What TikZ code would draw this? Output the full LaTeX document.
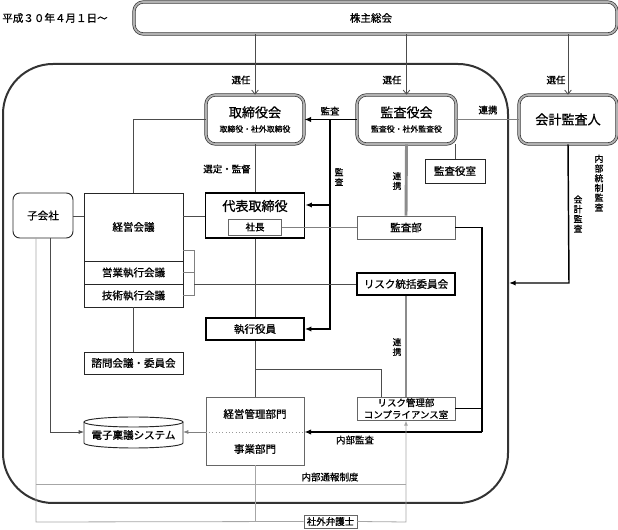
\documentclass[tikz,border=0pt]{standalone}
\usepackage{fontspec}
\setmainfont{Noto Sans CJK JP}[AutoFakeBold=0.9]
\usetikzlibrary{arrows.meta}
\newlength\px \setlength\px{0.75pt}
\tikzset{
  dbox/.style={draw=black!80, double=black!30, double distance=1.4pt, line width=0.5pt, rounded corners=7pt, fill=white, inner sep=0pt, align=center},
  box/.style={draw=black!85, line width=0.7pt, fill=white, inner sep=0pt},
  tbox/.style={draw=black, line width=1.2pt, fill=white, inner sep=0pt},
  gbox/.style={draw=black!60, line width=0.6pt, fill=white, inner sep=0pt},
  dk/.style={draw=black!70, line width=0.6pt},
  gr/.style={draw=black!50, line width=0.6pt},
  lg/.style={draw=black!35, line width=0.6pt},
  thk/.style={draw=black, line width=1.1pt},
  tg/.style={draw=black!45, line width=2.2pt},
  fa/.style={-{Latex[length=5pt,width=4pt]}},
  sa/.style={-{Latex[length=4pt,width=3pt]}},
  oa/.style={-{Straight Barb[length=3pt,width=5pt]}},
  fbig/.style={font=\fontsize{9.8}{11}\selectfont\bfseries},
  fmid/.style={font=\fontsize{7.9}{9}\selectfont\bfseries},
  fsm/.style={font=\fontsize{7.1}{8.5}\selectfont\bfseries},
  fvt/.style={font=\fontsize{6.6}{7.3}\selectfont\bfseries, align=center, inner sep=0pt},
}
\begin{document}
\begin{tikzpicture}[x=0.75pt,y=-0.75pt]
\useasboundingbox (0,0) rectangle (618,530);
% big frame
\draw[draw=black!80, line width=1.5pt, rounded corners=50\px] (3,64) rectangle (508,503);

\node[fmid] (date) at (55,18) {平成３０年４月１日～};
\node[dbox, minimum width=483\px, minimum height=32\px] (gm) at (375.5,18) {};
\node[fmid] (gmt) at (371,18) {株主総会};

\node[dbox, minimum width=98\px, minimum height=49\px] (tor) at (255,119.5)
  {{\fontsize{9.8}{12}\selectfont\bfseries 取締役会}\\[-1pt]{\fontsize{5.9}{7}\selectfont\bfseries 取締役・社外取締役}};
\node[dbox, minimum width=99\px, minimum height=49\px] (kyk) at (406.5,119.5)
  {{\fontsize{9.8}{12}\selectfont\bfseries 監査役会}\\[-1pt]{\fontsize{5.9}{7}\selectfont\bfseries 監査役・社外監査役}};
\node[dbox, minimum width=98\px, minimum height=49\px, fbig] (kai) at (568,119.5) {会計監査人};

\node[tbox, minimum width=99\px, minimum height=45\px] (dai) at (255,215.5) {};
\node[fbig] (dait) at (255,206) {代表取締役};
\node[gbox, minimum width=53\px, minimum height=16\px, fsm] (sha) at (255,227) {社長};

\node[box, minimum width=60\px, minimum height=24\px, fmid] (kys) at (455,171) {監査役室};
\node[gbox, minimum width=98\px, minimum height=23\px, fmid] (kb) at (406,227.5) {監査部};
\node[tbox, minimum width=98\px, minimum height=22\px, fmid] (rc) at (406,284) {リスク統括委員会};

\node[box, minimum width=60\px, minimum height=45\px, rounded corners=5pt, fmid] (ko) at (43,215.5) {子会社};
\node[box, minimum width=99\px, minimum height=68\px, fmid] (kk) at (133.5,227) {経営会議};
\node[box, minimum width=99\px, minimum height=23\px, fmid] (ek) at (133.5,272.5) {営業執行会議};
\node[box, minimum width=99\px, minimum height=23\px, fmid] (gk) at (133.5,295.5) {技術執行会議};
\node[box, minimum width=99\px, minimum height=22\px, fmid] (sm) at (133.5,363) {諮問会議・委員会};

\node[tbox, minimum width=98\px, minimum height=22\px, fmid] (sy) at (255,329) {執行役員};
\node[gbox, minimum width=98\px, minimum height=68\px] (bm) at (255,431) {};
\node[fmid] (bm1) at (255,414) {経営管理部門};
\node[fmid] (bm2) at (255,449) {事業部門};
\draw[black!40, dotted, line width=0.5pt] (bm.west |- 0,432) -- (bm.east |- 0,432);
\node[gbox, minimum width=98\px, minimum height=23\px, align=center, font=\fontsize{7.1}{9}\selectfont\bfseries] (rk) at (406,408.5) {リスク管理部\\コンプライアンス室};

% cylinder
\draw[box] (84,422) -- (84,443) arc[start angle=180, end angle=360, x radius=49.5\px, y radius=5\px] -- (183,422);
\draw[box] (133.5,422) ellipse[x radius=49.5\px, y radius=5\px];
\node[minimum width=99\px, minimum height=31\px, inner sep=0pt, fmid] (ds) at (133.5,435) {電子稟議システム};

\node[gbox, minimum width=53\px, minimum height=13\px, fsm] (bg) at (330.5,521.5) {社外弁護士};

% 選任
\draw[dk,oa] (tor.north |- gm.south) -- (tor.north);
\draw[dk,oa] (kyk.north |- gm.south) -- (kyk.north);
\draw[dk,oa] (kai.north |- gm.south) -- (kai.north);
\node[fsm] (s1) at (241,80) {選任};
\node[fsm] (s2) at (392,80) {選任};
\node[fsm] (s3) at (556,80) {選任};

% 監査
\draw[thk,fa] (kyk.west) -- (tor.east);
\node[fsm] (k1) at (330,111) {監査};
\coordinate (kv) at (330,119.5);
\coordinate (kd) at (330,205);
\draw[thk,fa] (kv) |- (sy.east);
\draw[thk,fa] (kd) -- (dai.east |- kd);
\node[fvt] (k2) at (339,177) {監\\査};

% 連携
\draw[gr] (kyk.east) -- (kai.west);
\node[fsm] (r1) at (488,110) {連携};
\draw[tg] (kyk.south) -- (kb.north);
\node[fvt] (r2) at (397,181) {連\\携};
\draw[dk] (kyk.south -| kys) -- (kys.north);

% 取締役会 → 経営会議
\draw[dk] (tor.west) -| (kk.north);
\draw[dk] (tor.south) -- (dai.north);
\node[fsm] (sk) at (227,169) {選定・監督};

\draw[gr] (sha.east) -- (sha.east -| kb.west);
\draw[dk] (ko.east |- 0,216) -- (kk.west |- 0,216);
\draw[dk] (kk.east |- 0,216) -- (dai.west |- 0,216);

% bracket
\coordinate (b1) at (183,250);
\coordinate (b2) at (194,250);
\coordinate (b3) at (194,295.5);
\coordinate (b4) at (183,295.5);
\coordinate (b5) at (183,272.5);
\coordinate (b6) at (194,272.5);
\coordinate (b7) at (194,284);
\draw[gr] (b1) -- (b2) -- (b3) -- (b4);
\draw[gr] (b5) -- (b6);
\draw[dk] (b7) -- (rc.west);

\draw[tg] (rc.south) -- (rk.north);
\node[fvt] (r3) at (397,347) {連\\携};

\draw[dk] (dai.south) -- (sy.north);
\draw[dk] (sy.south) -- (bm.north);
\coordinate (br) at (255,369);
\draw[dk] (br) -| (381,397);
\draw[dk] (gk.south) -- (sm.north);

% 内部監査
\coordinate (n1) at (482,227.5);
\coordinate (n2) at (482,432);
\draw[thk] (kb.east) -- (n1) -- (n2);
\draw[thk,fa] (n2) -- (bm.east |- n2);
\draw[thk] (rk.east) -- (rk.east -| n1);
\node[fsm] (nk) at (355,440) {内部監査};

% 会計監査
\coordinate (a1) at (569,283);
\coordinate (a2) at (509,283);
\draw[thk,fa] (kai.south) -- (a1) -- (a2);
\node[fvt] (a3) at (578,214) {会\\計\\監\\査};
\node[fvt] (a4) at (599,183) {内\\部\\統\\制\\監\\査};

% 電子稟議
\draw[gr,sa] (bm.west |- 0,432) -- (183,432);
\coordinate (c1) at (50,238);
\coordinate (c2) at (50,432);
\draw[dk,sa] (c1) -- (c2) -- (84,432);

% 内部通報
\coordinate (t1) at (36,238);
\coordinate (t2) at (36,522);
\draw[lg] (t1) -- (t2) -- (bg.west);
\draw[lg] (bm.south) -- (bm.south |- bg.west);
\draw[lg] (36,484) -- (406,484);
\node[fsm] (tn) at (330,477) {内部通報制度};
\coordinate (t3) at (406,522);
\draw[lg,sa] (bg.east) -- (t3) -- (rk.south);
\end{tikzpicture}
\end{document}
